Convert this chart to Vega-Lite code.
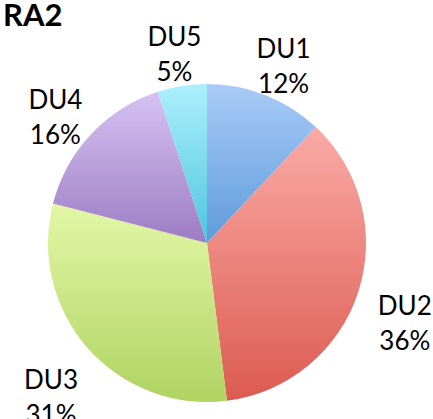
{
  "$schema": "https://vega.github.io/schema/vega-lite/v6.json",
  "width": 414,
  "height": 400,
  "autosize": "none",
  "padding": {"left": 0, "top": 43, "right": 19, "bottom": 0},
  "background": "white",
  "title": {"text": "RA2", "anchor": "start", "frame": "group", "font": "Lato", "fontSize": 31, "fontWeight": "bold", "color": "black", "dx": 3, "offset": -8},
  "view": {"stroke": null},
  "data": {"values": [
    {"k": "DU1", "v": 12, "lab": ["DU1", "12%"]},
    {"k": "DU2", "v": 36, "lab": ["DU2", "36%"]},
    {"k": "DU3", "v": 31, "lab": ["DU3", "31%"]},
    {"k": "DU4", "v": 16, "lab": ["DU4", "16%"]},
    {"k": "DU5", "v": 5, "lab": ["DU5", "5%"]}
  ]},
  "encoding": {
    "theta": {"field": "v", "type": "quantitative", "stack": true},
    "order": {"field": "k", "type": "ordinal"}
  },
  "layer": [
    {
      "mark": {"type": "arc", "outerRadius": 159, "stroke": null},
      "encoding": {
        "color": {
          "condition": [
            {"test": "datum.k==='DU1'", "value": {"gradient": "linear", "x1": 0, "y1": 0, "x2": 0, "y2": 1, "stops": [{"offset": 0, "color": "#a9cbf7"}, {"offset": 1, "color": "#5e9bdb"}]}},
            {"test": "datum.k==='DU2'", "value": {"gradient": "linear", "x1": 0, "y1": 0, "x2": 0, "y2": 1, "stops": [{"offset": 0, "color": "#faaaa6"}, {"offset": 1, "color": "#dc5b50"}]}},
            {"test": "datum.k==='DU3'", "value": {"gradient": "linear", "x1": 0, "y1": 0, "x2": 0, "y2": 1, "stops": [{"offset": 0, "color": "#e3f7a6"}, {"offset": 1, "color": "#b0d363"}]}},
            {"test": "datum.k==='DU4'", "value": {"gradient": "linear", "x1": 0, "y1": 0, "x2": 0, "y2": 1, "stops": [{"offset": 0, "color": "#d6c2f2"}, {"offset": 1, "color": "#9c7cc4"}]}}
          ],
          "value": {"gradient": "linear", "x1": 0, "y1": 0, "x2": 0, "y2": 1, "stops": [{"offset": 0, "color": "#acf0fc"}, {"offset": 1, "color": "#4ec4de"}]}
        }
      }
    },
    {
      "mark": {"type": "text", "radius": 208, "font": "Lato", "fontSize": 26, "color": "black", "lineHeight": 35},
      "encoding": {"text": {"field": "lab"}}
    }
  ]
}
